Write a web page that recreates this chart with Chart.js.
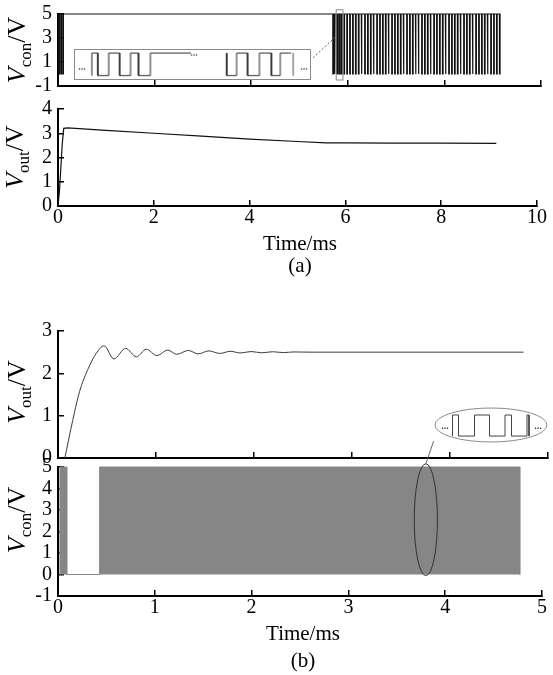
<!DOCTYPE html>
<html>
<head>
<meta charset="utf-8">
<script src="https://cdn.jsdelivr.net/npm/chart.js@4.4.1/dist/chart.umd.min.js"></script>
<style>
  body { margin: 0; background: #fff; width: 553px; height: 675px; position: relative; overflow: hidden; font-family: "Liberation Serif", serif; color: #000; }
  canvas { position: absolute; }
  .ylab { position: absolute; white-space: nowrap; font-size: 26px; line-height: 1; transform: translate(-50%, -50%) rotate(-90deg); }
  .ylab sub { font-size: 17px; }
  .lab { position: absolute; white-space: nowrap; font-size: 21px; line-height: 1; transform: translate(-50%, -50%); }
</style>
</head>
<body>
<canvas id="aCon" width="553" height="120" style="left:0;top:-10px"></canvas>
<canvas id="aOut" width="553" height="155" style="left:0;top:85px"></canvas>
<canvas id="aZoom" width="237" height="31" style="left:74px;top:49px;border:1px solid #8a8a8a;background:#fff"></canvas>
<canvas id="bOut" width="553" height="175" style="left:0;top:307px"></canvas>
<canvas id="bCon" width="553" height="200" style="left:0;top:425px"></canvas>
<canvas id="bZoom" width="114" height="36" style="left:434px;top:407px"></canvas>

<div class="ylab" style="left:19px;top:50px"><i>V</i><sub>con</sub>/V</div>
<div class="ylab" style="left:17px;top:157px"><i>V</i><sub>out</sub>/V</div>
<div class="lab" style="left:300px;top:243px">Time/ms</div>
<div class="lab" style="left:300px;top:265px">(a)</div>
<div class="ylab" style="left:19px;top:392px"><i>V</i><sub>out</sub>/V</div>
<div class="ylab" style="left:19px;top:520px"><i>V</i><sub>con</sub>/V</div>
<div class="lab" style="left:303px;top:633px">Time/ms</div>
<div class="lab" style="left:303px;top:660px">(b)</div>

<script>
// ---------- (a) ----------
// Vcon: short low dips of the PWM signal (ms), otherwise high at 5 V
const aStartDips = [0.02, 0.06, 0.10];
const aPwmDips = [5.69, 5.72, 5.76, 5.79, 5.83, 5.87, 5.92, 5.98, 6.04, 6.10, 6.16, 6.22, 6.28, 6.35, 6.41,
  6.47, 6.53, 6.60, 6.66, 6.72, 6.78, 6.84, 6.91, 6.97, 7.03, 7.09, 7.15, 7.22, 7.28, 7.34, 7.40, 7.46,
  7.53, 7.59, 7.65, 7.71, 7.78, 7.84, 7.90, 7.96, 8.02, 8.09, 8.15, 8.21, 8.27, 8.33, 8.40, 8.46, 8.52,
  8.58, 8.65, 8.71, 8.77, 8.83, 8.89, 8.96, 9.02, 9.08, 9.14];
const aPwmEnd = 9.15;
const aDipWidth = 0.012;

// Vout
const aVoutTime  = [0, 0.03, 0.06, 0.09, 0.12, 0.2, 1, 2, 3, 4, 5, 5.6, 6, 7, 8, 9.15];
const aVoutValue = [0, 0.6, 1.6, 2.6, 3.2, 3.22, 3.12, 3.0, 2.88, 2.76, 2.66, 2.6, 2.6, 2.59, 2.59, 2.58];

// zoom box of (a): square wave edges in the box's own time units
const aZoomEdges1 = [17, 23, 34, 45, 56, 64, 76];
const aZoomEdges2 = [153, 163, 174, 186, 198, 207];
const aZoomDots = [{ x: 7, y: 0.35 }, { x: 120, y: 1.0 }, { x: 231, y: 0.35 }];
const aZoomRect = { x0: 5.76, x1: 5.90, y0: -0.5, y1: 5.35 };
const aZoomLink = [{ x: 5.28, y: 1.35 }, { x: 5.75, y: 3.1 }];

// ---------- (b) ----------
const bVoutTime  = [0.07, 0.14, 0.22, 0.31, 0.39, 0.47, 0.57, 0.69, 0.80, 0.90, 1.01, 1.12, 1.21, 1.33, 1.43,
  1.54, 1.65, 1.76, 1.86, 1.97, 2.08, 2.19, 2.30, 2.40, 2.6, 3.0, 4.0, 4.75];
const bVoutValue = [0, 0.78, 1.57, 2.12, 2.47, 2.65, 2.34, 2.59, 2.39, 2.57, 2.42, 2.55, 2.45, 2.54, 2.46,
  2.53, 2.47, 2.52, 2.48, 2.515, 2.485, 2.51, 2.49, 2.505, 2.5, 2.5, 2.5, 2.5];

// Vcon: dense PWM bursts (start, end) in ms, 0 V in between
const bBursts = [[0.02, 0.09], [0.43, 4.77]];
const bEllipse = { x: 3.80, y: 2.55, rx: 0.12, ry: 2.6 };
const bZoomLink = [{ x: 3.80, y: 5.15 }, { x: 3.88, y: 6.2 }];

// zoom ellipse of (b)
const bZoomEdges = [18.5, 24.5, 40.5, 55.5, 71, 77.5, 93, 95];
const bZoomDots = [{ x: 11, y: 0.45 }, { x: 104, y: 0.45 }];

const tickFont = { family: 'Liberation Serif', size: 20 };

function pwmTrace(dips, end, w) {
  const pts = [{ x: 0, y: 0 }, { x: 0, y: 5 }];
  dips.forEach(t => {
    pts.push({ x: t, y: 5 }, { x: t, y: 0 }, { x: t + w, y: 0 }, { x: t + w, y: 5 });
  });
  pts.push({ x: end, y: 5 }, { x: end, y: 0 });
  return pts;
}

function squareWave(level, edges, end) {
  const pts = [{ x: edges[0], y: level }];
  edges.forEach(t => {
    pts.push({ x: t, y: level });
    level = 1 - level;
    pts.push({ x: t, y: level });
  });
  pts.push({ x: end, y: level });
  return pts;
}

function burstTrace(bursts) {
  const pts = [];
  bursts.forEach(([s, e]) => {
    pts.push({ x: s, y: 0 }, { x: s, y: 5 }, { x: e, y: 5 }, { x: e, y: 0 });
  });
  return pts;
}

function zip(xs, ys) {
  return xs.map((x, i) => ({ x: x, y: ys[i] }));
}

function scaleSet(o) {
  const axis = () => ({
    type: 'linear',
    border: { color: '#000', width: 2 },
    grid: { drawOnChartArea: false, drawTicks: true, tickLength: -6, color: '#000', lineWidth: 1.5 }
  });
  const x = axis(), y = axis();
  Object.assign(x, {
    min: 0, max: o.xMax,
    ticks: { stepSize: o.xStep, display: o.showX, autoSkip: false, padding: 6, color: '#000', font: tickFont, maxRotation: 0 },
    afterFit: s => { s.height = o.xHeight; }
  });
  Object.assign(y, {
    min: o.yMin, max: o.yMax,
    ticks: { stepSize: o.yStep, autoSkip: false, padding: 12, color: '#000', font: tickFont },
    afterFit: s => { s.width = 58; }
  });
  return { x, y };
}

const decorPlugin = {
  id: 'decor',
  afterDatasetsDraw(chart, args, opts) {
    const { ctx } = chart;
    const x = chart.scales.x, y = chart.scales.y;
    ctx.save();
    if (opts.rect) {
      const r = opts.rect;
      ctx.strokeStyle = '#8a8a8a';
      ctx.lineWidth = 1;
      ctx.strokeRect(x.getPixelForValue(r.x0), y.getPixelForValue(r.y1),
        x.getPixelForValue(r.x1) - x.getPixelForValue(r.x0), y.getPixelForValue(r.y0) - y.getPixelForValue(r.y1));
    }
    if (opts.ellipse) {
      const e = opts.ellipse;
      const cx = x.getPixelForValue(e.x), cy = y.getPixelForValue(e.y);
      ctx.beginPath();
      ctx.ellipse(cx, cy, x.getPixelForValue(e.x + e.rx) - cx, cy - y.getPixelForValue(e.y + e.ry), 0, 0, Math.PI * 2);
      ctx.strokeStyle = '#333';
      ctx.lineWidth = 1;
      ctx.stroke();
    }
    if (opts.link) {
      const l = opts.link;
      ctx.beginPath();
      ctx.moveTo(x.getPixelForValue(l[0].x), y.getPixelForValue(l[0].y));
      ctx.lineTo(x.getPixelForValue(l[1].x), y.getPixelForValue(l[1].y));
      ctx.strokeStyle = '#666';
      ctx.lineWidth = 1;
      ctx.setLineDash(opts.dashed ? [2, 2] : []);
      ctx.stroke();
    }
    if (opts.dots) {
      ctx.fillStyle = '#333';
      ctx.font = 'bold 9px "Liberation Sans"';
      ctx.textAlign = 'center';
      ctx.textBaseline = 'middle';
      opts.dots.forEach(d => ctx.fillText('...', x.getPixelForValue(d.x), y.getPixelForValue(d.y)));
    }
    ctx.restore();
  },
  beforeDatasetsDraw(chart, args, opts) {
    if (!opts.oval) return;
    const { ctx, width, height } = chart;
    ctx.save();
    ctx.beginPath();
    ctx.ellipse(width / 2, height / 2, width / 2 - 1, height / 2 - 1, 0, 0, Math.PI * 2);
    ctx.fillStyle = '#fff';
    ctx.fill();
    ctx.strokeStyle = '#8a8a8a';
    ctx.lineWidth = 1;
    ctx.stroke();
    ctx.restore();
  }
};

function panel(id, datasets, scales, padding, decor) {
  return new Chart(document.getElementById(id), {
    type: 'line',
    data: { datasets },
    options: {
      responsive: false,
      animation: false,
      events: [],
      layout: { padding },
      elements: { point: { radius: 0 }, line: { tension: 0 } },
      plugins: { legend: { display: false }, tooltip: { enabled: false }, decor: decor || {} },
      scales
    },
    plugins: [decorPlugin]
  });
}

// (a) Vcon
panel('aCon', [{
  data: pwmTrace(aStartDips.concat(aPwmDips), aPwmEnd, aDipWidth),
  borderColor: '#111', borderWidth: 1.2, clip: false
}], scaleSet({ xMax: 10, xStep: 2, showX: false, yMin: -1, yMax: 5, yStep: 2, xHeight: 24 }),
  { top: 24, right: 12, left: 0, bottom: 0 },
  { rect: aZoomRect, link: aZoomLink, dashed: true });

// (a) Vout
panel('aOut', [{
  data: zip(aVoutTime, aVoutValue),
  borderColor: '#111', borderWidth: 1.2, clip: false
}], scaleSet({ xMax: 10, xStep: 2, showX: true, yMin: 0, yMax: 4, yStep: 1, xHeight: 34 }),
  { top: 24, right: 12, left: 0, bottom: 0 });

// (a) zoom box
new Chart(document.getElementById('aZoom'), {
  type: 'line',
  data: {
    datasets: [
      { data: squareWave(0, aZoomEdges1, 117), borderColor: '#222', borderWidth: 1 },
      { data: squareWave(1, aZoomEdges2, 218), borderColor: '#222', borderWidth: 1 },
      { data: [{ x: 220, y: 1 }, { x: 220, y: 0 }], borderColor: '#999', borderWidth: 1 }
    ]
  },
  options: {
    responsive: false, animation: false, events: [],
    layout: { padding: 0 },
    elements: { point: { radius: 0 }, line: { tension: 0 } },
    plugins: { legend: { display: false }, tooltip: { enabled: false }, decor: { dots: aZoomDots } },
    scales: { x: { type: 'linear', min: 0, max: 237, display: false }, y: { min: -0.15, max: 1.13, display: false } }
  },
  plugins: [decorPlugin]
});

// (b) Vout
panel('bOut', [{
  data: zip(bVoutTime, bVoutValue),
  borderColor: '#3a3a3a', borderWidth: 1, cubicInterpolationMode: 'monotone', clip: false
}], scaleSet({ xMax: 5, xStep: 1, showX: false, yMin: 0, yMax: 3, yStep: 1, xHeight: 24 }),
  { top: 24, right: 5, left: 0, bottom: 0 });

// (b) Vcon
panel('bCon', [{
  data: burstTrace(bBursts),
  borderColor: '#868686', backgroundColor: '#868686', borderWidth: 1, fill: 'origin', clip: false
}], scaleSet({ xMax: 5, xStep: 1, showX: true, yMin: -1, yMax: 5, yStep: 1, xHeight: 29 }),
  { top: 42, right: 5, left: 0, bottom: 0 },
  { ellipse: bEllipse, link: bZoomLink });

// (b) zoom ellipse
new Chart(document.getElementById('bZoom'), {
  type: 'line',
  data: {
    datasets: [{ data: squareWave(0, bZoomEdges, 95), borderColor: '#444', borderWidth: 1 }]
  },
  options: {
    responsive: false, animation: false, events: [],
    layout: { padding: 0 },
    elements: { point: { radius: 0 }, line: { tension: 0 } },
    plugins: { legend: { display: false }, tooltip: { enabled: false }, decor: { oval: true, dots: bZoomDots } },
    scales: { x: { type: 'linear', min: 0, max: 114, display: false }, y: { min: -0.33, max: 1.38, display: false } }
  },
  plugins: [decorPlugin]
});
</script>
</body>
</html>
